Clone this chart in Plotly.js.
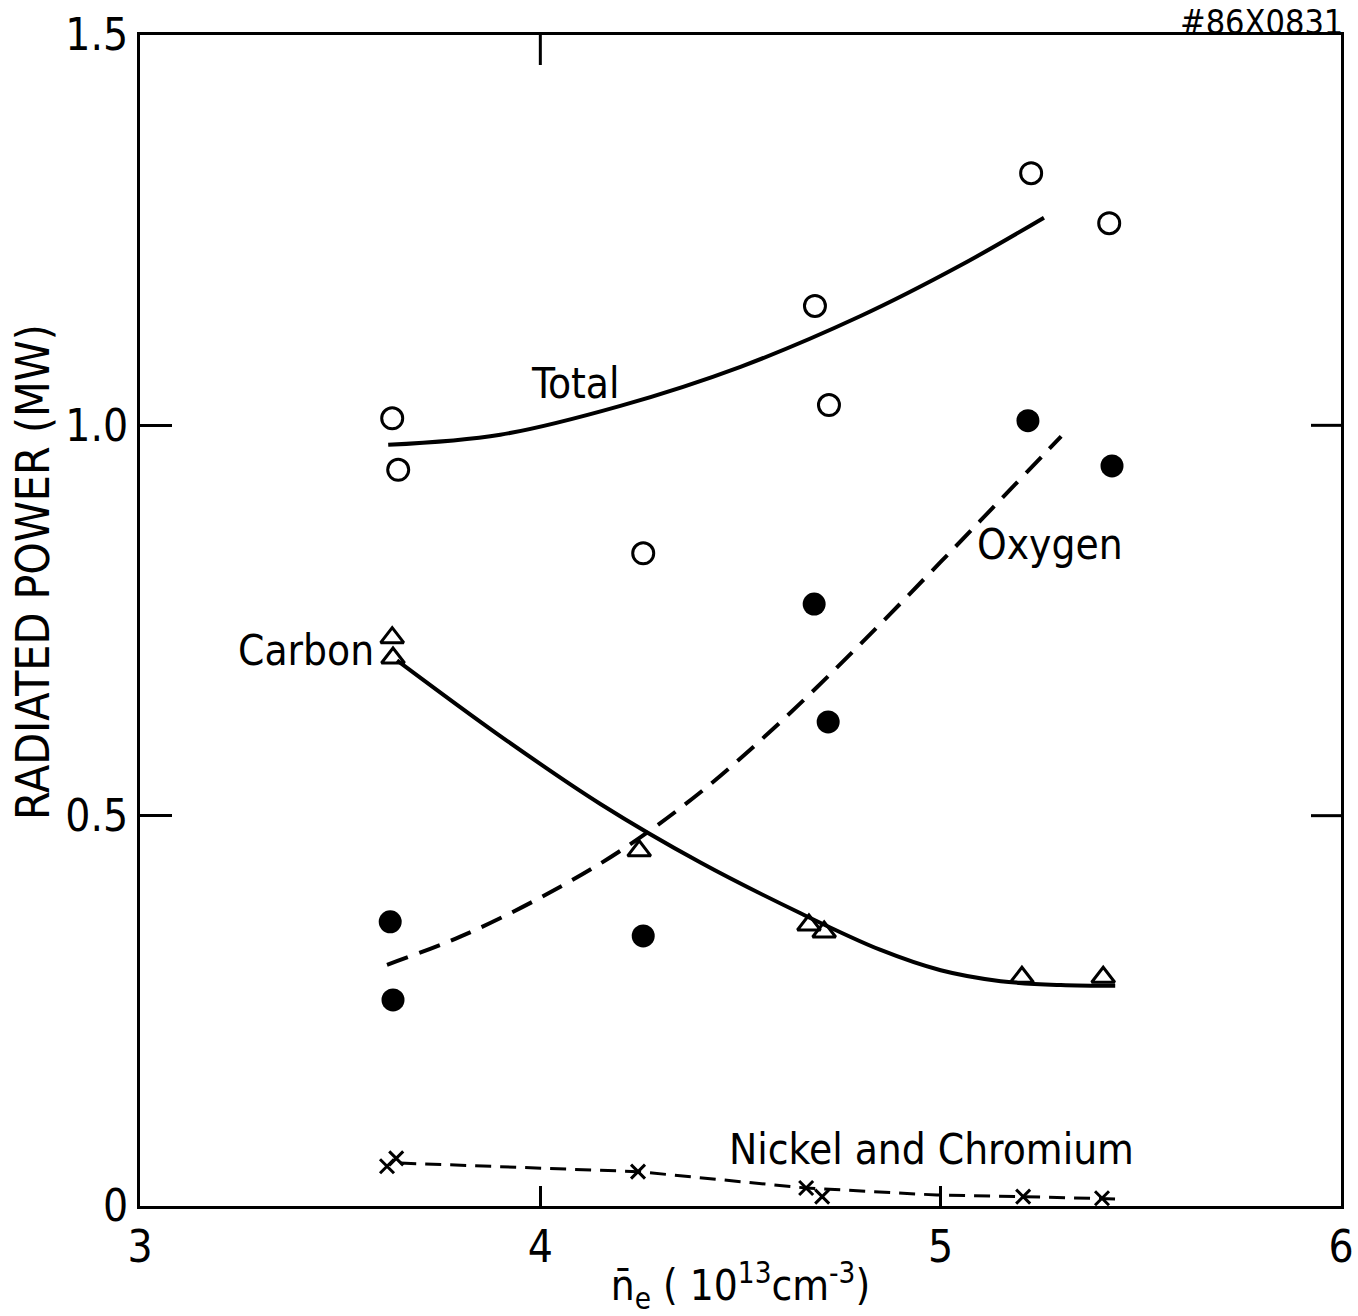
<!DOCTYPE html>
<html>
<head>
<meta charset="utf-8">
<script src="https://cdn.plot.ly/plotly-3.0.1.min.js"></script>
<style>
  html, body { margin: 0; padding: 0; background: #ffffff; }
  #chart { width: 1358px; height: 1316px; }
</style>
</head>
<body>
<div id="chart"></div>
<script>
// ---- Data ----
// Total radiated power (open circles)
const totalX = [3.630, 3.645, 4.257, 4.686, 4.721, 5.226, 5.421];
const totalY = [1.009, 0.943, 0.836, 1.153, 1.026, 1.323, 1.259];
// Oxygen (filled circles)
const oxygenX = [3.625, 3.632, 4.257, 4.684, 4.719, 5.218, 5.428];
const oxygenY = [0.364, 0.264, 0.346, 0.771, 0.620, 1.006, 0.948];
// Carbon (open triangles)
const carbonX = [3.630, 3.632, 4.247, 4.671, 4.709, 5.203, 5.406];
const carbonY = [0.728, 0.702, 0.455, 0.360, 0.351, 0.293, 0.293];
// Nickel and Chromium (crosses)
const nickelX = [3.617, 3.640, 4.244, 4.664, 4.704, 5.206, 5.403];
const nickelY = [0.051, 0.061, 0.044, 0.023, 0.012, 0.012, 0.010];

// Hand-drawn fit curves
const totalFitX = [3.620, 3.900, 4.200, 4.500, 4.800, 5.050, 5.258];
const totalFitY = [0.975, 0.988, 1.025, 1.075, 1.140, 1.205, 1.266];
const oxygenFitX = [3.617, 3.800, 4.000, 4.200, 4.400, 4.600, 4.800, 5.000, 5.150, 5.301];
const oxygenFitY = [0.309, 0.345, 0.395, 0.455, 0.530, 0.620, 0.720, 0.825, 0.905, 0.986];
const carbonFitX = [3.642, 3.900, 4.150, 4.400, 4.650, 4.850, 5.000, 5.150, 5.300, 5.436];
const carbonFitY = [0.699, 0.602, 0.515, 0.440, 0.375, 0.328, 0.302, 0.288, 0.283, 0.282];
const nickelFitX = [3.650, 4.244, 4.664, 4.991, 5.206, 5.436];
const nickelFitY = [0.055, 0.044, 0.023, 0.014, 0.012, 0.009];

// Axis ticks
const xTickVals = [3, 4, 5, 6];
const xTickText = ['3', '4', '5', '6'];
const yTickVals = [0, 0.5, 1.0, 1.5];
const yTickText = ['0', '0.5', '1.0', '1.5'];
const topTickVals = [4];
const rightTickVals = [0.5, 1.0];

// Curve labels
const labelText = ['Total', 'Carbon', 'Oxygen', 'Nickel and Chromium'];
const labelX = [4.089, 3.415, 5.273, 4.978];
const labelY = [1.054, 0.712, 0.847, 0.072];

const FONT = '"DejaVu Sans Condensed", "Liberation Sans Narrow", "DejaVu Sans", sans-serif';
const INK = '#000000';

const traces = [
  { x: totalFitX, y: totalFitY, mode: 'lines', line: { color: INK, width: 4, shape: 'spline', smoothing: 1 }, hoverinfo: 'skip' },
  { x: oxygenFitX, y: oxygenFitY, mode: 'lines', line: { color: INK, width: 4, dash: '22px,12px', shape: 'spline', smoothing: 1 }, hoverinfo: 'skip' },
  { x: carbonFitX, y: carbonFitY, mode: 'lines', line: { color: INK, width: 4, shape: 'spline', smoothing: 1 }, hoverinfo: 'skip' },
  { x: nickelFitX, y: nickelFitY, mode: 'lines', line: { color: INK, width: 3, dash: '16px,9px' }, hoverinfo: 'skip' },
  { x: totalX, y: totalY, mode: 'markers', marker: { symbol: 'circle-open', size: 21, color: INK, line: { color: INK, width: 3 } } },
  { x: oxygenX, y: oxygenY, mode: 'markers', marker: { symbol: 'circle', size: 23, color: INK } },
  { x: carbonX, y: carbonY, mode: 'markers', marker: { symbol: 'triangle-up-open', size: 20, color: INK, line: { color: INK, width: 3 } } },
  { x: nickelX, y: nickelY, mode: 'markers', marker: { symbol: 'x-thin-open', size: 14, color: INK, line: { color: INK, width: 3 } } }
];

const shapes = [];
topTickVals.forEach(v => shapes.push({
  type: 'line', xref: 'x', yref: 'paper', x0: v, x1: v, y0: 1, y1: 1 - 30 / 1171,
  line: { color: INK, width: 3 }
}));
rightTickVals.forEach(v => shapes.push({
  type: 'line', xref: 'paper', yref: 'y', x0: 1, x1: 1 - 30 / 1201, y0: v, y1: v,
  line: { color: INK, width: 3 }
}));

const annotations = labelText.map((t, i) => ({
  text: t, x: labelX[i], y: labelY[i], xref: 'x', yref: 'y',
  showarrow: false, font: { family: FONT, size: 42, color: INK }
}));
// figure number at the top right
annotations.push({
  text: '#86X0831', xref: 'paper', yref: 'paper', x: 1.003, y: 1 + 35 / 1171,
  xanchor: 'right', yanchor: 'top', showarrow: false,
  font: { family: FONT, size: 34, color: INK }
});
// y axis title (placed as a rotated annotation so it can sit off-centre like the reference)
annotations.push({
  text: 'RADIATED POWER (MW)', xref: 'paper', yref: 'paper',
  x: -107 / 1201, y: (1206 - 572) / 1171, xanchor: 'center', yanchor: 'middle',
  textangle: -90, showarrow: false,
  font: { family: FONT, size: 46, color: INK }
});

const layout = {
  width: 1358, height: 1316,
  margin: { l: 140, r: 17, t: 35, b: 110 },
  paper_bgcolor: '#ffffff', plot_bgcolor: '#ffffff',
  showlegend: false,
  font: { family: FONT, color: INK, size: 42 },
  xaxis: {
    range: [3, 6], tickvals: xTickVals, ticktext: xTickText,
    showline: true, mirror: true, linecolor: INK, linewidth: 3,
    ticks: 'inside', ticklen: 20, tickwidth: 3, tickcolor: INK,
    showgrid: false, zeroline: false,
    tickfont: { family: FONT, size: 44, color: INK },
    title: { text: 'n\u0304<sub>e</sub> ( 10<sup>13</sup>cm<sup>-3</sup>)', font: { family: FONT, size: 42, color: INK }, standoff: 6 }
  },
  yaxis: {
    range: [0, 1.5], tickvals: yTickVals, ticktext: yTickText,
    showline: true, mirror: true, linecolor: INK, linewidth: 3,
    ticks: 'inside', ticklen: 32, tickwidth: 3, tickcolor: INK,
    showgrid: false, zeroline: false,
    tickfont: { family: FONT, size: 44, color: INK }
  },
  shapes: shapes,
  annotations: annotations
};

Plotly.newPlot('chart', traces, layout, { staticPlot: true, displayModeBar: false });
</script>
</body>
</html>
